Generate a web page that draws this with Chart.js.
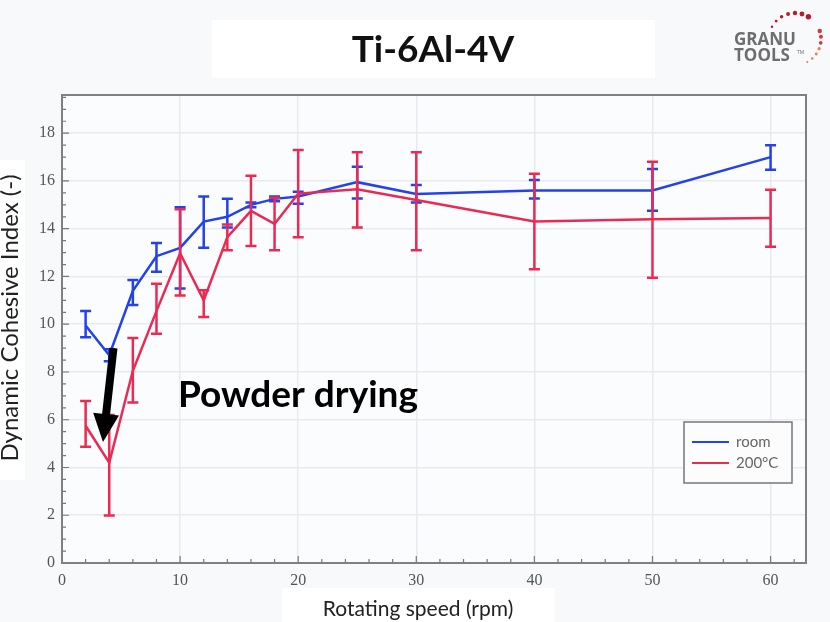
<!DOCTYPE html>
<html>
<head>
<meta charset="utf-8">
<title>Ti-6Al-4V</title>
<script src="https://cdn.jsdelivr.net/npm/chart.js@4.4.1/dist/chart.umd.min.js"></script>
<style>
  html, body { margin: 0; padding: 0; background: #f8f9fb; }
  #wrap { width: 830px; height: 622px; }
</style>
</head>
<body>
<div id="wrap"><canvas id="dciChart" width="830" height="622"></canvas></div>
<script>
// rotating speed (rpm)
const speeds = [2, 4, 6, 8, 10, 12, 14, 16, 18, 20, 25, 30, 40, 50, 60];

// room temperature powder
const roomMean = [9.95, 8.7, 11.4, 12.85, 13.2, 14.3, 14.5, 15.0, 15.25, 15.35, 15.95, 15.45, 15.6, 15.6, 17.0];
const roomLow  = [9.45, 8.45, 10.8, 12.2, 11.5, 13.2, 14.05, 14.9, 15.15, 15.05, 15.27, 15.1, 15.27, 14.75, 16.47];
const roomHigh = [10.55, 8.95, 11.85, 13.4, 14.9, 15.35, 15.25, 15.1, 15.35, 15.55, 16.6, 15.83, 16.04, 16.5, 17.5];

// dried at 200°C
const hotMean = [5.75, 4.2, 8.05, 10.55, 12.97, 11.0, 13.65, 14.75, 14.2, 15.47, 15.65, 15.2, 14.3, 14.4, 14.45];
const hotLow  = [4.87, 1.99, 6.72, 9.6, 11.2, 10.3, 13.1, 13.28, 13.1, 13.64, 14.05, 13.1, 12.3, 11.95, 13.24];
const hotHigh = [6.78, 6.2, 9.42, 11.7, 14.82, 11.42, 14.18, 16.22, 15.3, 17.3, 17.2, 17.2, 16.3, 16.8, 15.63];

const seriesLabels = ['room', '200°C'];
const seriesColors = ['#2342ea', '#ea2a52'];

// annotation arrow (data coords: start, tip) and label anchor
const arrowFrom = [4.36, 9.0];
const arrowTo = [3.47, 5.07];
const noteAt = [9.82, 6.53];
const noteText = 'Powder drying';

const chartTitle = 'Ti-6Al-4V';
const xTitle = 'Rotating speed (rpm)';
const yTitle = 'Dynamic Cohesive Index (-)';

function pts(ys) {
  return speeds.map((s, i) => ({ x: s, y: ys[i] }));
}

const decor = {
  id: 'decor',
  beforeDraw(chart) {
    const { ctx, chartArea: a } = chart;
    ctx.save();
    ctx.fillStyle = '#f8f9fb';
    ctx.fillRect(0, 0, chart.width, chart.height);
    ctx.fillStyle = '#fbfcfe';
    ctx.fillRect(a.left, a.top, a.right - a.left, a.bottom - a.top);
    ctx.fillStyle = '#ffffff';
    ctx.fillRect(212, 20, 443, 58);
    ctx.fillRect(0, 160, 25, 320);
    ctx.fillRect(282, 588, 273, 34);
    ctx.restore();
  },
  afterDatasetDraw(chart, args) {
    const ds = chart.data.datasets[args.index];
    const { ctx } = chart;
    const xs = chart.scales.x, ys = chart.scales.y;
    ctx.save();
    ctx.strokeStyle = ds.borderColor;
    ctx.lineWidth = 2.5;
    ds.errLow.forEach((lo, i) => {
      const px = xs.getPixelForValue(speeds[i]);
      const pl = ys.getPixelForValue(lo);
      const ph = ys.getPixelForValue(ds.errHigh[i]);
      ctx.beginPath();
      ctx.moveTo(px, pl); ctx.lineTo(px, ph);
      ctx.moveTo(px - 5.5, pl); ctx.lineTo(px + 5.5, pl);
      ctx.moveTo(px - 5.5, ph); ctx.lineTo(px + 5.5, ph);
      ctx.stroke();
    });
    ctx.restore();
  },
  afterDraw(chart) {
    const { ctx, chartArea: a } = chart;
    const xs = chart.scales.x, ys = chart.scales.y;
    ctx.save();

    // inward ticks
    ctx.strokeStyle = '#777';
    ctx.lineWidth = 1.2;
    ctx.beginPath();
    for (let v = 0; v <= xs.max; v += 2) {
      const px = xs.getPixelForValue(v);
      const len = v % 10 === 0 ? 7 : 4;
      ctx.moveTo(px, a.bottom); ctx.lineTo(px, a.bottom - len);
    }
    for (let v = 0; v <= ys.max; v += 0.5) {
      const py = ys.getPixelForValue(v);
      const len = v % 2 === 0 ? 7 : 4;
      ctx.moveTo(a.left, py); ctx.lineTo(a.left + len, py);
    }
    ctx.stroke();

    // frame
    ctx.strokeStyle = '#808080';
    ctx.lineWidth = 2;
    ctx.strokeRect(a.left, a.top, a.right - a.left, a.bottom - a.top);

    // arrow
    const x0 = xs.getPixelForValue(arrowFrom[0]), y0 = ys.getPixelForValue(arrowFrom[1]);
    const x1 = xs.getPixelForValue(arrowTo[0]), y1 = ys.getPixelForValue(arrowTo[1]);
    const dx = x1 - x0, dy = y1 - y0, L = Math.hypot(dx, dy);
    const ux = dx / L, uy = dy / L, nx = -uy, ny = ux;
    const headLen = 28, headW = 13, shaftW = 4;
    const bx = x1 - ux * headLen, by = y1 - uy * headLen;
    ctx.fillStyle = '#000';
    ctx.beginPath();
    ctx.moveTo(x0 + nx * shaftW, y0 + ny * shaftW);
    ctx.lineTo(bx + nx * shaftW, by + ny * shaftW);
    ctx.lineTo(bx + nx * headW, by + ny * headW);
    ctx.lineTo(x1, y1);
    ctx.lineTo(bx - nx * headW, by - ny * headW);
    ctx.lineTo(bx - nx * shaftW, by - ny * shaftW);
    ctx.lineTo(x0 - nx * shaftW, y0 - ny * shaftW);
    ctx.closePath();
    ctx.fill();

    // annotation
    ctx.font = 'bold 37px Lato';
    ctx.textAlign = 'left';
    ctx.textBaseline = 'alphabetic';
    ctx.fillText(noteText, xs.getPixelForValue(noteAt[0]), ys.getPixelForValue(noteAt[1]));

    // title
    ctx.fillStyle = '#111';
    ctx.font = 'bold 37px Lato';
    ctx.textAlign = 'center';
    ctx.fillText(chartTitle, 433, 62);

    // axis titles
    ctx.fillStyle = '#222';
    ctx.font = '21px Lato';
    ctx.fillText(xTitle, 418, 616);
    ctx.save();
    ctx.translate(18, 318);
    ctx.rotate(-Math.PI / 2);
    ctx.font = '24px Lato';
    ctx.fillText(yTitle, 0, 0);
    ctx.restore();

    // legend
    const lx = a.right - 122, ly = a.bottom - 141, lw = 108, lh = 61;
    ctx.fillStyle = '#fcfcfd';
    ctx.fillRect(lx, ly, lw, lh);
    ctx.strokeStyle = '#777';
    ctx.lineWidth = 1.5;
    ctx.strokeRect(lx, ly, lw, lh);
    ctx.font = '15px Lato';
    ctx.textAlign = 'left';
    ctx.textBaseline = 'middle';
    chart.data.datasets.forEach((ds, i) => {
      const yy = ly + 20 + i * 21;
      ctx.strokeStyle = ds.borderColor;
      ctx.lineWidth = 2.2;
      ctx.beginPath();
      ctx.moveTo(lx + 8, yy); ctx.lineTo(lx + 45, yy);
      ctx.stroke();
      ctx.fillStyle = '#666';
      ctx.fillText(ds.label, lx + 52, yy);
    });

    // logo
    ctx.textBaseline = 'alphabetic';
    ctx.fillStyle = '#6e6e6e';
    ctx.font = 'bold 17px "Open Sans"';
    ctx.fillText('GRANU', 734, 45);
    ctx.fillText('TOOLS', 734, 61);
    ctx.font = '5px "Open Sans"';
    ctx.fillText('TM', 797, 54);
    const cx = 795, cy = 39, r = 26;
    for (let k = 0; k < 7; k++) {
      const ang = (-152 + k * 15.5) * Math.PI / 180;
      ctx.fillStyle = '#b41c2e';
      ctx.beginPath();
      ctx.arc(cx + r * Math.cos(ang), cy + r * Math.sin(ang), 1.2 + k * 0.25, 0, Math.PI * 2);
      ctx.fill();
    }
    for (let k = 0; k < 7; k++) {
      const ang = (-18 + k * 13.3) * Math.PI / 180;
      ctx.fillStyle = k < 3 ? '#d8343a' : '#ee7a55';
      ctx.beginPath();
      ctx.arc(cx + r * Math.cos(ang), cy + r * Math.sin(ang), 2.2 - k * 0.2, 0, Math.PI * 2);
      ctx.fill();
    }
    ctx.restore();
  }
};

new Chart(document.getElementById('dciChart').getContext('2d'), {
  type: 'line',
  data: {
    datasets: [{
      label: seriesLabels[0],
      data: pts(roomMean),
      errLow: roomLow,
      errHigh: roomHigh,
      borderColor: seriesColors[0],
      borderWidth: 2.5,
      pointRadius: 0,
      tension: 0,
      order: 1
    }, {
      label: seriesLabels[1],
      data: pts(hotMean),
      errLow: hotLow,
      errHigh: hotHigh,
      borderColor: seriesColors[1],
      borderWidth: 2.5,
      pointRadius: 0,
      tension: 0,
      order: 0
    }]
  },
  options: {
    responsive: false,
    animation: false,
    devicePixelRatio: 1,
    layout: { padding: { top: 95, right: 24, left: 0, bottom: 0 } },
    plugins: { legend: { display: false }, tooltip: { enabled: false } },
    scales: {
      x: {
        type: 'linear',
        min: 0,
        max: 63,
        afterFit: s => { s.height = 59; },
        ticks: { stepSize: 10, includeBounds: false, padding: 8, color: '#555', font: { family: "'Liberation Serif', serif", size: 16 } },
        grid: { color: '#e8eaee', lineWidth: 1.5, drawTicks: false },
        border: { display: false }
      },
      y: {
        min: 0,
        max: 19.6,
        afterFit: s => { s.width = 62; },
        ticks: { stepSize: 2, includeBounds: false, padding: 7, color: '#555', font: { family: "'Liberation Serif', serif", size: 16 } },
        grid: { color: '#e8eaee', lineWidth: 1.5, drawTicks: false },
        border: { display: false }
      }
    }
  },
  plugins: [decor]
});
</script>
</body>
</html>
